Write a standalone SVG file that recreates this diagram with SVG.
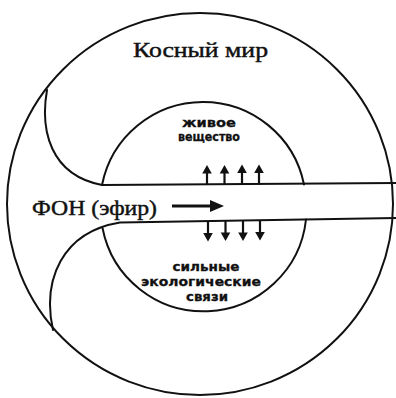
<svg xmlns="http://www.w3.org/2000/svg" width="396" height="398" viewBox="0 0 396 398">
  <style>
    .ln{fill:none;stroke:#111;stroke-width:2;stroke-linecap:round;stroke-linejoin:round}
    .serif{font-family:"Liberation Serif","DejaVu Serif",serif;font-size:22px;fill:#111;stroke:#111;stroke-width:0.45}
    .lab{font-family:"DejaVu Sans","Liberation Sans",sans-serif;font-size:12.5px;font-weight:bold;fill:#111;text-anchor:middle;stroke:#111;stroke-width:0.3}
    .sh{stroke:#111;stroke-width:2.2;fill:none}
    .hd{fill:#111}
  </style>
  <defs>
    <g id="up">
      <line class="sh" x1="0" y1="0" x2="0" y2="-13"/>
      <polygon class="hd" points="-4.8,-11.5 0,-20 4.8,-11.5"/>
    </g>
    <g id="down">
      <line class="sh" x1="0" y1="0" x2="0" y2="13"/>
      <polygon class="hd" points="-4.8,11.5 0,20 4.8,11.5"/>
    </g>
  </defs>
  <rect width="396" height="398" fill="#fff"/>

  <g id="outer-world">
    <ellipse class="ln" cx="200" cy="204" rx="193" ry="191"/>
    <text class="serif" x="133" y="57" textLength="135" lengthAdjust="spacingAndGlyphs">Косный мир</text>
  </g>

  <g id="channel">
    <path class="ln" d="M47,90 C40,130 50,175 102,185 L396,183"/>
    <path class="ln" d="M53,330 C42,280 62,232 120,222.5 L396,218"/>
    <text class="serif" x="32" y="215" textLength="125" lengthAdjust="spacingAndGlyphs">ФОН (эфир)</text>
  </g>

  <g id="living-matter">
    <path class="ln" d="M102,185 A103,103 0 0 1 304,184.5"/>
    <text class="lab" x="209" y="127" textLength="54" lengthAdjust="spacingAndGlyphs">живое</text>
    <text class="lab" x="209" y="141" textLength="62" lengthAdjust="spacingAndGlyphs">вещество</text>
  </g>

  <g id="ecological-links">
    <path class="ln" d="M306,219.5 A103,103 0 0 1 102.5,228"/>
    <text class="lab" x="206" y="271" textLength="67" lengthAdjust="spacingAndGlyphs">сильные</text>
    <text class="lab" x="201" y="286" textLength="120" lengthAdjust="spacingAndGlyphs">экологические</text>
    <text class="lab" x="207" y="301" textLength="42" lengthAdjust="spacingAndGlyphs">связи</text>
  </g>

  <g id="connectors">
    <line x1="172" y1="206" x2="213" y2="206" stroke="#111" stroke-width="3"/>
    <polygon class="hd" points="210,200 224,206 210,212"/>
    <use href="#up" x="207" y="185"/>
    <use href="#up" x="224.5" y="185"/>
    <use href="#up" x="242" y="184.5"/>
    <use href="#up" x="259" y="184.5"/>
    <use href="#down" x="208" y="221.5"/>
    <use href="#down" x="225.5" y="221"/>
    <use href="#down" x="243" y="221"/>
    <use href="#down" x="260" y="220.5"/>
  </g>
</svg>
